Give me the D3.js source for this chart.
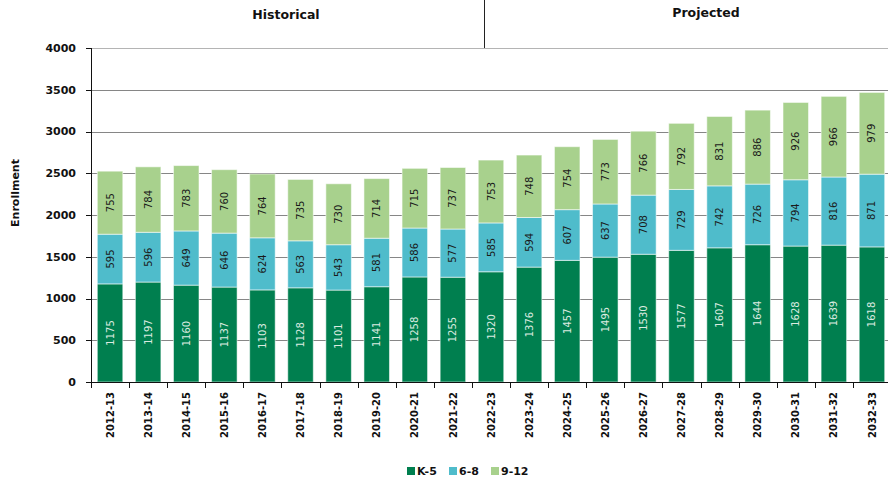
<!DOCTYPE html>
<html>
    <head>
        <meta charset="utf-8">
        <title>Enrollment</title>
        <style>
body {
    margin: 0;
    background-color: white;
    font-family: 'DejaVu Sans', sans-serif;
}

svg {
    display: block;
    background-color: white;
}

.grid line {
    stroke-width: 1;
}

.axis-text {
    font-size: 11px;
    font-weight: bold;
    fill: #111;
}

.value {
    font-size: 10px;
    text-anchor: middle;
    dominant-baseline: central;
}

.header {
    font-size: 12.5px;
    font-weight: bold;
    text-anchor: middle;
    fill: #111;
}
        </style>
        <script src="https://cdn.jsdelivr.net/npm/d3@7"></script>
    </head>
    <body>
        <script>
var years = ["2012-13", "2013-14", "2014-15", "2015-16", "2016-17", "2017-18", "2018-19",
    "2019-20", "2020-21", "2021-22", "2022-23", "2023-24", "2024-25", "2025-26", "2026-27",
    "2027-28", "2028-29", "2029-30", "2030-31", "2031-32", "2032-33"];
var k5 = [1175, 1197, 1160, 1137, 1103, 1128, 1101, 1141, 1258, 1255, 1320, 1376, 1457,
    1495, 1530, 1577, 1607, 1644, 1628, 1639, 1618];
var g68 = [595, 596, 649, 646, 624, 563, 543, 581, 586, 577, 585, 594, 607, 637, 708, 729,
    742, 726, 794, 816, 871];
var g912 = [755, 784, 783, 760, 764, 735, 730, 714, 715, 737, 753, 748, 754, 773, 766, 792,
    831, 886, 926, 966, 979];
var seriesNames = ["K-5", "6-8", "9-12"];
var yTicks = [0, 500, 1000, 1500, 2000, 2500, 3000, 3500, 4000];

var colors = ["#007f4f", "#4fbccb", "#a8d18d"];
var labelColors = ["#dcebe0", "#1a1a1a", "#1a1a1a"];

var width = 888,
    height = 482;
var plotLeft = 91, plotRight = 891, plotTop = 48, plotBottom = 382;

var svg = d3.select('body')
    .append('svg')
    .attr('width', width)
    .attr('height', height);

var x = d3.scaleBand()
    .domain(years)
    .range([plotLeft, plotRight])
    .paddingInner(0.33)
    .paddingOuter(0.165);

var y = d3.scaleLinear()
    .domain([0, 4000])
    .range([plotBottom, plotTop]);

// build stacked rows
var rows = years.map(function (yr, i) {
    return { year: yr, "K-5": k5[i], "6-8": g68[i], "9-12": g912[i] };
});
var stacked = d3.stack().keys(seriesNames)(rows);

// grid lines
svg.append("g")
    .attr("class", "grid")
    .selectAll("line")
    .data(yTicks.filter(function (d) { return d > 0; }))
    .enter().append("line")
    .attr("x1", plotLeft)
    .attr("x2", width)
    .attr("y1", function (d) { return Math.round(y(d)) + 0.5; })
    .attr("y2", function (d) { return Math.round(y(d)) + 0.5; })
    .style("stroke", function (d) { return d == 4000 ? "#b4b4b4" : "#868686"; });

// header divider and labels
svg.append("line")
    .attr("x1", 484.5).attr("x2", 484.5)
    .attr("y1", 0).attr("y2", plotTop)
    .style("stroke", "#222");

svg.append("text").attr("class", "header")
    .attr("x", 286).attr("y", 19).text("Historical");
svg.append("text").attr("class", "header")
    .attr("x", 706).attr("y", 17).text("Projected");

// bars
var layer = svg.selectAll(".layer")
    .data(stacked)
    .enter().append("g")
    .attr("class", "layer");

layer.selectAll("rect")
    .data(function (s, i) { return s.map(function (d) { d.si = i; return d; }); })
    .enter().append("rect")
    .attr("x", function (d) { return x(d.data.year); })
    .attr("width", x.bandwidth())
    .attr("y", function (d) { return y(d[1]); })
    .attr("height", function (d) { return y(d[0]) - y(d[1]); })
    .style("fill", function (d) { return colors[d.si]; })
    .style("stroke", "rgba(255,255,255,0.55)")
    .style("stroke-width", 1);

layer.selectAll("text")
    .data(function (s) { return s; })
    .enter().append("text")
    .attr("class", "value")
    .attr("transform", function (d) {
        var cx = x(d.data.year) + x.bandwidth() / 2;
        var cy = (y(d[0]) + y(d[1])) / 2;
        return "translate(" + cx + "," + cy + ") rotate(-90)";
    })
    .style("fill", function (d) { return labelColors[d.si]; })
    .text(function (d) { return d[1] - d[0]; });

// y axis
var yAxis = svg.append("g");
yAxis.append("line")
    .attr("x1", plotLeft + 0.5).attr("x2", plotLeft + 0.5)
    .attr("y1", plotTop).attr("y2", plotBottom + 6)
    .style("stroke", "#111");
yAxis.selectAll(".tick")
    .data(yTicks)
    .enter().append("line")
    .attr("x1", plotLeft - 5).attr("x2", plotLeft)
    .attr("y1", function (d) { return Math.round(y(d)) + 0.5; })
    .attr("y2", function (d) { return Math.round(y(d)) + 0.5; })
    .style("stroke", "#111");
yAxis.selectAll("text")
    .data(yTicks)
    .enter().append("text")
    .attr("class", "axis-text")
    .attr("x", 76)
    .attr("y", function (d) { return y(d); })
    .attr("dy", "0.36em")
    .attr("text-anchor", "end")
    .text(function (d) { return d; });

svg.append("text")
    .attr("class", "axis-text")
    .attr("transform", "translate(19,193) rotate(-90)")
    .attr("text-anchor", "middle")
    .text("Enrollment");

// x axis
var xAxis = svg.append("g");
xAxis.append("line")
    .attr("x1", plotLeft).attr("x2", width)
    .attr("y1", plotBottom + 0.5).attr("y2", plotBottom + 0.5)
    .style("stroke", "#111");
xAxis.selectAll(".tick")
    .data(years.concat(["end"]))
    .enter().append("line")
    .attr("x1", function (d, i) { return Math.round(plotLeft + i * x.step()) + 0.5; })
    .attr("x2", function (d, i) { return Math.round(plotLeft + i * x.step()) + 0.5; })
    .attr("y1", plotBottom)
    .attr("y2", plotBottom + 6)
    .style("stroke", "#111");
xAxis.selectAll("text")
    .data(years)
    .enter().append("text")
    .attr("class", "axis-text")
    .style("font-size", "10px")
    .attr("transform", function (d) {
        return "translate(" + (x(d) + x.bandwidth() / 2) + "," + (plotBottom + 10) + ") rotate(-90)";
    })
    .attr("dy", "0.36em")
    .attr("text-anchor", "end")
    .text(function (d) { return d; });

// legend
var legend = svg.append("g")
    .selectAll("g")
    .data(seriesNames)
    .enter().append("g")
    .attr("transform", function (d, i) { return "translate(" + [407, 449, 491][i] + ",467)"; });
legend.append("rect")
    .attr("width", 8).attr("height", 8)
    .style("fill", function (d, i) { return colors[i]; });
legend.append("text")
    .attr("class", "axis-text")
    .attr("x", 10).attr("y", 4)
    .attr("dy", "0.36em")
    .text(function (d) { return d; });
        </script>
    </body>
</html>
